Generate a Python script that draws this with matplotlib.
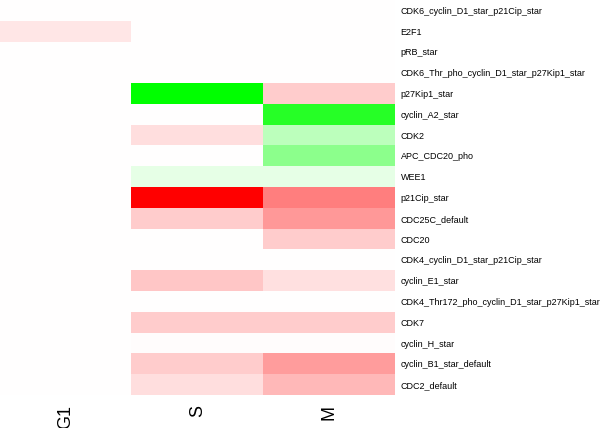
import numpy as np
import matplotlib
matplotlib.use("Agg")
import matplotlib.pyplot as plt
from matplotlib.colors import LinearSegmentedColormap

phases = ["G1", "S", "M"]
species = [
    "CDK6_cyclin_D1_star_p21Cip_star",
    "E2F1",
    "pRB_star",
    "CDK6_Thr_pho_cyclin_D1_star_p27Kip1_star",
    "p27Kip1_star",
    "cyclin_A2_star",
    "CDK2",
    "APC_CDC20_pho",
    "WEE1",
    "p21Cip_star",
    "CDC25C_default",
    "CDC20",
    "CDK4_cyclin_D1_star_p21Cip_star",
    "cyclin_E1_star",
    "CDK4_Thr172_pho_cyclin_D1_star_p27Kip1_star",
    "CDK7",
    "cyclin_H_star",
    "cyclin_B1_star_default",
    "CDC2_default",
]

# change per phase: negative = green, positive = red
g1 = [0, 0.10, 0, 0, 0, 0, 0, 0, 0, 0, 0, 0, 0, 0, 0, 0, 0, 0, 0]
s = [0, 0, 0, 0, -1.0, 0, 0.13, 0, -0.10, 1.0, 0.20, 0, 0, 0.22, 0, 0.20, 0.01, 0.20, 0.13]
m = [0, 0, 0, 0, 0.20, -0.85, -0.26, -0.45, -0.10, 0.50, 0.40, 0.20, 0, 0.12, 0, 0.20, 0.01, 0.39, 0.28]

data = np.column_stack([g1, s, m])

cmap = LinearSegmentedColormap.from_list("gwr", ["#00ff00", "#ffffff", "#ff0000"])

fig = plt.figure(figsize=(6, 4.28), dpi=100)
ax = fig.add_axes([0, 1 - 395 / 428, 395 / 600, 395 / 428])
ax.imshow(data, cmap=cmap, vmin=-1, vmax=1, aspect="auto", interpolation="nearest")

ax.yaxis.tick_right()
ax.set_yticks(range(len(species)))
ax.set_yticklabels(species, fontsize=6.5, family="Liberation Sans")
ax.set_xticks(range(len(phases)))
ax.set_xticklabels(phases, rotation=90, fontsize=13, family="Liberation Sans")
ax.tick_params(axis="y", length=0, pad=4)
ax.tick_params(axis="x", length=0, pad=7)
for sp in ax.spines.values():
    sp.set_visible(False)

fig.savefig("out.png", dpi=100)
